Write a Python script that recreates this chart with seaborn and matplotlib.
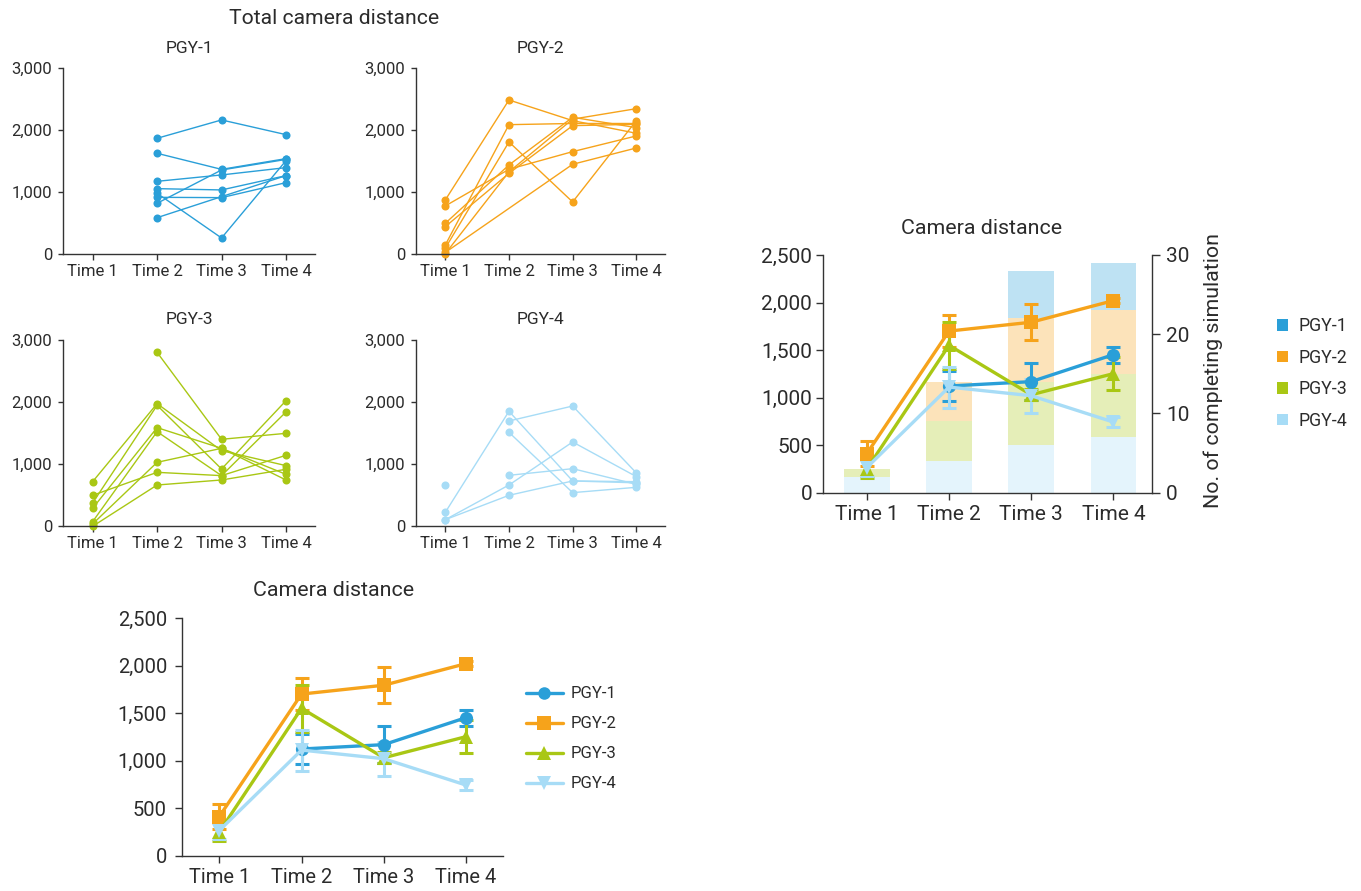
import numpy as np
import pandas as pd
import matplotlib
matplotlib.use("Agg")
import matplotlib.pyplot as plt
from matplotlib.ticker import FuncFormatter
from matplotlib.lines import Line2D
from matplotlib.patches import Patch
import seaborn as sns

nan = np.nan

# ---------------- data ----------------
times = ["Time 1", "Time 2", "Time 3", "Time 4"]
groups = ["PGY-1", "PGY-2", "PGY-3", "PGY-4"]

# individual trainees, total camera distance per session
pgy1_subjects = [
    [nan, 1871, 2167, 1930],
    [nan, 1629, 1370, 1543],
    [nan, 1177, 1280, 1398],
    [nan, 1059, 1038, 1269],
    [nan, 984, 263, 1511],
    [nan, 823, 1360, 1530],
    [nan, 591, 930, 1269],
    [nan, 919, 914, 1156],
]
pgy2_subjects = [
    [876, 2489, 2156, 1952],
    [780, 1371, 1656, 1909],
    [500, 1441, 2210, 2043],
    [446, 1306, 2075, 2097],
    [150, 2091, 2110, 2110],
    [100, 1812, 844, 2156],
    [30, nan, 1452, 1715],
    [10, 1330, 2180, 2349],
]
pgy3_subjects = [
    [719, 1975, 1218, 977],
    [499, 869, 816, 1143],
    [376, 1948, 923, 2023],
    [290, 1589, 1256, 837],
    [75, 1524, 816, 1841],
    [38, 1030, 1256, 746],
    [0, 665, 746, 918],
    [nan, 2801, 1401, 1497],
]
pgy4_subjects = [
    [660, nan, nan, nan],
    [225, 1852, 730, 719],
    [107, 665, 1358, 800],
    [107, 499, 730, 700],
    [nan, 1696, 1937, 859],
    [nan, 1513, 542, 628],
    [nan, 821, 928, 676],
]

# group means and standard errors
mean_pgy1 = [nan, 1122, 1168, 1452]
sem_pgy1 = [nan, 155, 192, 84]
mean_pgy2 = [412, 1700, 1793, 2020]
sem_pgy2 = [128, 172, 192, 25]
mean_pgy3 = [250, 1550, 1030, 1252]
sem_pgy3 = [100, 250, 60, 172]
mean_pgy4 = [265, 1111, 1020, 743]
sem_pgy4 = [90, 215, 180, 48]

# number of trainees completing the simulation
count_pgy1 = [0, 0, 6, 6]
count_pgy2 = [0, 5, 8, 8]
count_pgy3 = [1, 5, 8, 8]
count_pgy4 = [2, 4, 6, 7]

colors = {"PGY-1": "#2a9fd8", "PGY-2": "#f6a31b", "PGY-3": "#a9c714", "PGY-4": "#a7dcf6"}
markers = {"PGY-1": "o", "PGY-2": "s", "PGY-3": "^", "PGY-4": "v"}
msizes = {"PGY-1": 9.5, "PGY-2": 10, "PGY-3": 10, "PGY-4": 10}

subjects = {"PGY-1": pgy1_subjects, "PGY-2": pgy2_subjects,
            "PGY-3": pgy3_subjects, "PGY-4": pgy4_subjects}
means = {"PGY-1": mean_pgy1, "PGY-2": mean_pgy2, "PGY-3": mean_pgy3, "PGY-4": mean_pgy4}
sems = {"PGY-1": sem_pgy1, "PGY-2": sem_pgy2, "PGY-3": sem_pgy3, "PGY-4": sem_pgy4}
counts = {"PGY-1": count_pgy1, "PGY-2": count_pgy2, "PGY-3": count_pgy3, "PGY-4": count_pgy4}

rows = []
for g, subs in subjects.items():
    for i, s in enumerate(subs):
        for t, v in enumerate(s):
            rows.append({"group": g, "subject": i, "t": t, "dist": v})
indiv = pd.DataFrame(rows)

mrows = []
for g in groups:
    for t in range(4):
        mrows.append({"group": g, "t": t, "mean": means[g][t], "sem": sems[g][t]})
summary = pd.DataFrame(mrows)

# ---------------- style ----------------
sns.set_style("ticks")
plt.rcParams["font.family"] = ["Roboto", "DejaVu Sans"]
TXT = "#2b2b2b"
SPINE = "#333333"
plt.rcParams.update({
    "axes.edgecolor": SPINE, "axes.linewidth": 1.0,
    "xtick.color": SPINE, "ytick.color": SPINE,
    "xtick.labelcolor": TXT, "ytick.labelcolor": TXT,
    "text.color": TXT,
})

W, H = 1361, 891
fig = plt.figure(figsize=(W / 100, H / 100), dpi=100)


def px_axes(l, t, r, b):
    return fig.add_axes([l / W, 1 - b / H, (r - l) / W, (b - t) / H])


thousands = FuncFormatter(lambda v, p: f"{v:,.0f}")

# ---------------- individual panels ----------------
panel_boxes = {
    "PGY-1": (63, 68.3, 315, 254.3),
    "PGY-2": (416, 68.3, 665, 254.3),
    "PGY-3": (63, 340, 315, 526.3),
    "PGY-4": (416, 340, 665, 526.3),
}
for g, box in panel_boxes.items():
    ax = px_axes(*box)
    d = indiv[indiv["group"] == g]
    sns.lineplot(data=d, x="t", y="dist", units="subject", estimator=None,
                 color=colors[g], linewidth=1.0, marker="o", markersize=5.8,
                 markeredgewidth=0, ax=ax, legend=False)
    for ln in ax.lines:
        ln.set_clip_on(False)
    ax.set_xlim(-0.46, 3.45)
    ax.set_ylim(0, 3000)
    ax.set_yticks([0, 1000, 2000, 3000])
    ax.yaxis.set_major_formatter(thousands)
    ax.set_xticks(range(4))
    ax.set_xticklabels(times)
    ax.set_xlabel("")
    ax.set_ylabel("")
    ax.tick_params(axis="y", length=3.6, width=1.0, pad=4, labelsize=12)
    ax.tick_params(axis="x", length=4, width=1.0, pad=3, labelsize=12)
    sns.despine(ax=ax)
    cx = (box[0] + box[2]) / 2
    fig.text(cx / W, 1 - (box[1] - 20) / H, g, ha="center", va="center", fontsize=12.5)

fig.text(334 / W, 1 - 18 / H, "Total camera distance", ha="center", va="center", fontsize=15.2)


# ---------------- mean lines helper ----------------
def draw_means(ax):
    for g in groups:
        d = summary[summary["group"] == g]
        ax.errorbar(d["t"], d["mean"], yerr=d["sem"], fmt="none", ecolor=colors[g],
                    elinewidth=2.2, capsize=5, capthick=2.2, zorder=3)
        sns.lineplot(data=d, x="t", y="mean", color=colors[g], linewidth=2.4,
                     marker=markers[g], markersize=msizes[g], markeredgewidth=0,
                     ax=ax, legend=False, zorder=4)


# ---------------- combined chart with completion counts ----------------
axr = px_axes(822.5, 255, 1152, 492.7)
axc = axr.twinx()
bottom = np.zeros(4)
for g in ["PGY-4", "PGY-3", "PGY-2", "PGY-1"]:
    vals = np.array(counts[g], dtype=float)
    axc.bar(range(4), vals, bottom=bottom, width=0.555, color=colors[g], alpha=0.3,
            linewidth=0)
    bottom += vals
axc.set_ylim(0, 30)
axc.set_yticks([0, 10, 20, 30])
axc.tick_params(axis="y", length=6, width=1.0, pad=4, labelsize=15)
for s in ["top", "left", "bottom"]:
    axc.spines[s].set_visible(False)
axr.set_zorder(axc.get_zorder() + 1)
axr.patch.set_visible(False)

draw_means(axr)
axr.set_xlim(-0.54, 3.47)
axr.set_ylim(0, 2500)
axr.set_yticks(range(0, 2501, 500))
axr.yaxis.set_major_formatter(thousands)
axr.set_xticks(range(4))
axr.set_xticklabels(times)
axr.set_xlabel("")
axr.set_ylabel("")
axr.tick_params(axis="y", length=5, width=1.0, pad=2.5, labelsize=15)
axr.tick_params(axis="x", length=5, width=1.0, pad=4, labelsize=15)
axr.spines["top"].set_visible(False)
axr.spines["right"].set_visible(False)
fig.text(982 / W, 1 - 228 / H, "Camera distance", ha="center", va="center", fontsize=15.4)
fig.text(1213.5 / W, 1 - 370 / H, "No. of completing simulation", ha="center", va="center",
         rotation=90, fontsize=15.4)

bar_handles = [Patch(facecolor=colors[g], edgecolor="none") for g in groups]
axr.legend(bar_handles, groups, loc="center left",
           bbox_to_anchor=(1277 / W, 1 - 373.5 / H), bbox_transform=fig.transFigure,
           frameon=False, fontsize=12.8, handlelength=0.62, handleheight=0.62,
           handletextpad=0.6, labelspacing=0.765, borderpad=0, borderaxespad=0)

# ---------------- combined chart, means only ----------------
axb = px_axes(182.3, 618, 503, 855.7)
draw_means(axb)
axb.set_xlim(-0.45, 3.45)
axb.set_ylim(0, 2500)
axb.set_yticks(range(0, 2501, 500))
axb.yaxis.set_major_formatter(thousands)
axb.set_xticks(range(4))
axb.set_xticklabels(times)
axb.set_xlabel("")
axb.set_ylabel("")
axb.tick_params(axis="y", length=5, width=1.0, pad=6, labelsize=14.5)
axb.tick_params(axis="x", length=5, width=1.0, pad=4, labelsize=14.5)
sns.despine(ax=axb)
fig.text(334 / W, 1 - 590 / H, "Camera distance", ha="center", va="center", fontsize=15.4)

line_handles = [Line2D([0], [0], color=colors[g], linewidth=2.4, marker=markers[g],
                       markersize=msizes[g] * 0.95, markeredgewidth=0) for g in groups]
axb.legend(line_handles, groups, loc="center left",
           bbox_to_anchor=(526 / W, 1 - 739 / H), bbox_transform=fig.transFigure,
           frameon=False, fontsize=12, handlelength=2.2, handletextpad=0.5,
           labelspacing=0.9, borderpad=0, borderaxespad=0)

fig.savefig("out.png", dpi=100)
